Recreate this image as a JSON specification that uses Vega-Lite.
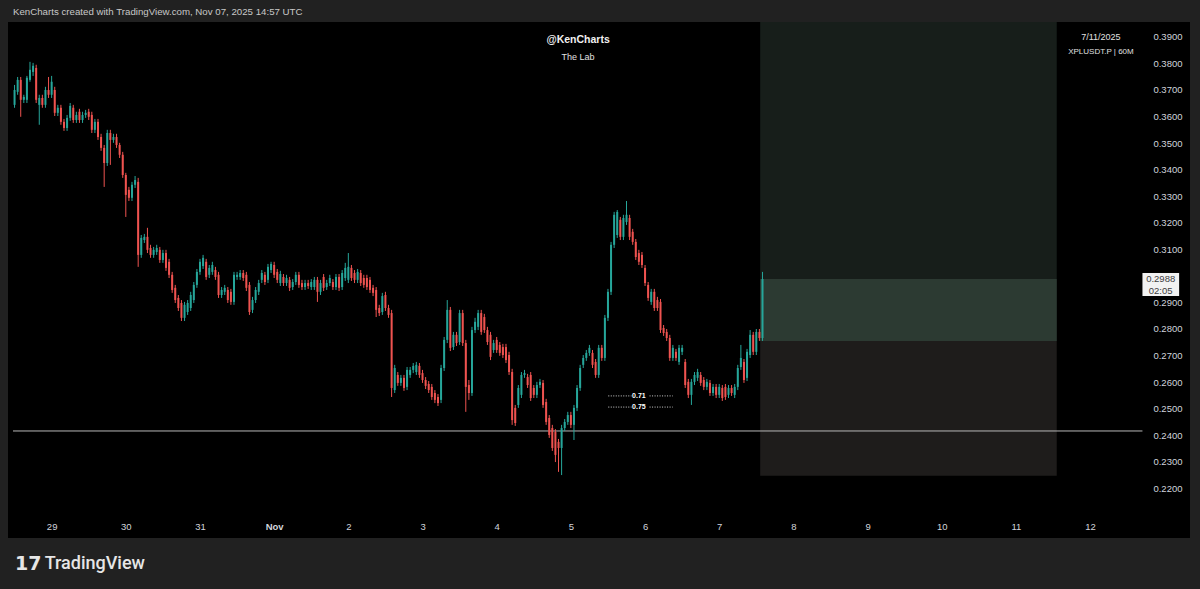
{
"$schema":"https://vega.github.io/schema/vega-lite/v6.json",
"width":1182,"height":516,
"autosize":{"type":"none"},
"padding":{"left":8,"top":22,"right":10,"bottom":51},
"background":"#212121",
"config":{"view":{"fill":"#000000","stroke":null},"font":"Liberation Sans"},
"resolve":{"axis":{"x":"independent","y":"independent"}},
"datasets":{
"candles":[
{"t":"2025-10-28T12:00Z","o":0.3644,"h":0.3719,"l":0.3633,"c":0.3700},
{"t":"2025-10-28T13:00Z","o":0.3693,"h":0.3749,"l":0.3682,"c":0.3738},
{"t":"2025-10-28T14:00Z","o":0.3738,"h":0.3749,"l":0.3599,"c":0.3663},
{"t":"2025-10-28T15:00Z","o":0.3663,"h":0.3682,"l":0.3651,"c":0.3674},
{"t":"2025-10-28T16:00Z","o":0.3663,"h":0.3753,"l":0.3651,"c":0.3746},
{"t":"2025-10-28T17:00Z","o":0.3738,"h":0.3806,"l":0.3731,"c":0.3776},
{"t":"2025-10-28T18:00Z","o":0.3768,"h":0.3802,"l":0.3753,"c":0.3791},
{"t":"2025-10-28T19:00Z","o":0.3783,"h":0.3795,"l":0.3651,"c":0.3663},
{"t":"2025-10-28T20:00Z","o":0.3644,"h":0.3682,"l":0.3569,"c":0.3670},
{"t":"2025-10-28T21:00Z","o":0.3670,"h":0.3682,"l":0.3633,"c":0.3644},
{"t":"2025-10-28T22:00Z","o":0.3644,"h":0.3712,"l":0.3633,"c":0.3700},
{"t":"2025-10-28T23:00Z","o":0.3700,"h":0.3749,"l":0.3670,"c":0.3682},
{"t":"2025-10-29T00:00Z","o":0.3682,"h":0.3753,"l":0.3670,"c":0.3731},
{"t":"2025-10-29T01:00Z","o":0.3700,"h":0.3712,"l":0.3602,"c":0.3614},
{"t":"2025-10-29T02:00Z","o":0.3614,"h":0.3644,"l":0.3602,"c":0.3633},
{"t":"2025-10-29T03:00Z","o":0.3633,"h":0.3644,"l":0.3569,"c":0.3580},
{"t":"2025-10-29T04:00Z","o":0.3580,"h":0.3591,"l":0.3546,"c":0.3557},
{"t":"2025-10-29T05:00Z","o":0.3557,"h":0.3606,"l":0.3546,"c":0.3595},
{"t":"2025-10-29T06:00Z","o":0.3595,"h":0.3651,"l":0.3584,"c":0.3640},
{"t":"2025-10-29T07:00Z","o":0.3633,"h":0.3644,"l":0.3576,"c":0.3587},
{"t":"2025-10-29T08:00Z","o":0.3587,"h":0.3618,"l":0.3576,"c":0.3606},
{"t":"2025-10-29T09:00Z","o":0.3618,"h":0.3629,"l":0.3576,"c":0.3587},
{"t":"2025-10-29T10:00Z","o":0.3587,"h":0.3618,"l":0.3576,"c":0.3606},
{"t":"2025-10-29T11:00Z","o":0.3606,"h":0.3625,"l":0.3595,"c":0.3614},
{"t":"2025-10-29T12:00Z","o":0.3618,"h":0.3629,"l":0.3587,"c":0.3599},
{"t":"2025-10-29T13:00Z","o":0.3606,"h":0.3618,"l":0.3538,"c":0.3550},
{"t":"2025-10-29T14:00Z","o":0.3550,"h":0.3591,"l":0.3538,"c":0.3580},
{"t":"2025-10-29T15:00Z","o":0.3580,"h":0.3591,"l":0.3512,"c":0.3523},
{"t":"2025-10-29T16:00Z","o":0.3523,"h":0.3535,"l":0.3471,"c":0.3482},
{"t":"2025-10-29T17:00Z","o":0.3482,"h":0.3493,"l":0.3335,"c":0.3425},
{"t":"2025-10-29T18:00Z","o":0.3425,"h":0.3550,"l":0.3414,"c":0.3538},
{"t":"2025-10-29T19:00Z","o":0.3538,"h":0.3550,"l":0.3418,"c":0.3512},
{"t":"2025-10-29T20:00Z","o":0.3512,"h":0.3535,"l":0.3501,"c":0.3523},
{"t":"2025-10-29T21:00Z","o":0.3523,"h":0.3535,"l":0.3482,"c":0.3493},
{"t":"2025-10-29T22:00Z","o":0.3493,"h":0.3501,"l":0.3444,"c":0.3456},
{"t":"2025-10-29T23:00Z","o":0.3456,"h":0.3467,"l":0.3369,"c":0.3380},
{"t":"2025-10-30T00:00Z","o":0.3380,"h":0.3388,"l":0.3222,"c":0.3305},
{"t":"2025-10-30T01:00Z","o":0.3324,"h":0.3335,"l":0.3282,"c":0.3294},
{"t":"2025-10-30T02:00Z","o":0.3294,"h":0.3354,"l":0.3282,"c":0.3343},
{"t":"2025-10-30T03:00Z","o":0.3343,"h":0.3376,"l":0.3331,"c":0.3361},
{"t":"2025-10-30T04:00Z","o":0.3354,"h":0.3369,"l":0.3034,"c":0.3079},
{"t":"2025-10-30T05:00Z","o":0.3079,"h":0.3154,"l":0.3068,"c":0.3143},
{"t":"2025-10-30T06:00Z","o":0.3135,"h":0.3158,"l":0.3124,"c":0.3147},
{"t":"2025-10-30T07:00Z","o":0.3147,"h":0.3181,"l":0.3086,"c":0.3098},
{"t":"2025-10-30T08:00Z","o":0.3105,"h":0.3117,"l":0.3068,"c":0.3079},
{"t":"2025-10-30T09:00Z","o":0.3079,"h":0.3109,"l":0.3068,"c":0.3098},
{"t":"2025-10-30T10:00Z","o":0.3090,"h":0.3117,"l":0.3079,"c":0.3105},
{"t":"2025-10-30T11:00Z","o":0.3098,"h":0.3109,"l":0.3049,"c":0.3060},
{"t":"2025-10-30T12:00Z","o":0.3060,"h":0.3098,"l":0.3049,"c":0.3086},
{"t":"2025-10-30T13:00Z","o":0.3086,"h":0.3098,"l":0.3019,"c":0.3030},
{"t":"2025-10-30T14:00Z","o":0.3053,"h":0.3064,"l":0.2992,"c":0.3004},
{"t":"2025-10-30T15:00Z","o":0.3004,"h":0.3015,"l":0.2936,"c":0.2947},
{"t":"2025-10-30T16:00Z","o":0.2955,"h":0.2966,"l":0.2898,"c":0.2909},
{"t":"2025-10-30T17:00Z","o":0.2917,"h":0.2928,"l":0.2868,"c":0.2879},
{"t":"2025-10-30T18:00Z","o":0.2898,"h":0.2909,"l":0.2830,"c":0.2842},
{"t":"2025-10-30T19:00Z","o":0.2842,"h":0.2902,"l":0.2830,"c":0.2891},
{"t":"2025-10-30T20:00Z","o":0.2864,"h":0.2909,"l":0.2853,"c":0.2898},
{"t":"2025-10-30T21:00Z","o":0.2879,"h":0.2940,"l":0.2868,"c":0.2928},
{"t":"2025-10-30T22:00Z","o":0.2909,"h":0.2977,"l":0.2898,"c":0.2966},
{"t":"2025-10-30T23:00Z","o":0.2966,"h":0.3026,"l":0.2955,"c":0.3015},
{"t":"2025-10-31T00:00Z","o":0.3015,"h":0.3064,"l":0.3004,"c":0.3053},
{"t":"2025-10-31T01:00Z","o":0.3037,"h":0.3079,"l":0.3026,"c":0.3068},
{"t":"2025-10-31T02:00Z","o":0.3053,"h":0.3064,"l":0.2985,"c":0.2996},
{"t":"2025-10-31T03:00Z","o":0.3004,"h":0.3041,"l":0.2992,"c":0.3030},
{"t":"2025-10-31T04:00Z","o":0.3015,"h":0.3053,"l":0.3004,"c":0.3041},
{"t":"2025-10-31T05:00Z","o":0.3022,"h":0.3034,"l":0.2985,"c":0.2996},
{"t":"2025-10-31T06:00Z","o":0.3004,"h":0.3015,"l":0.2917,"c":0.2928},
{"t":"2025-10-31T07:00Z","o":0.2928,"h":0.2958,"l":0.2917,"c":0.2947},
{"t":"2025-10-31T08:00Z","o":0.2940,"h":0.2966,"l":0.2928,"c":0.2955},
{"t":"2025-10-31T09:00Z","o":0.2947,"h":0.2958,"l":0.2898,"c":0.2909},
{"t":"2025-10-31T10:00Z","o":0.2940,"h":0.2951,"l":0.2891,"c":0.2902},
{"t":"2025-10-31T11:00Z","o":0.2902,"h":0.3015,"l":0.2891,"c":0.3004},
{"t":"2025-10-31T12:00Z","o":0.2996,"h":0.3015,"l":0.2985,"c":0.3004},
{"t":"2025-10-31T13:00Z","o":0.2996,"h":0.3022,"l":0.2985,"c":0.3011},
{"t":"2025-10-31T14:00Z","o":0.3011,"h":0.3022,"l":0.2981,"c":0.2992},
{"t":"2025-10-31T15:00Z","o":0.3004,"h":0.3015,"l":0.2943,"c":0.2955},
{"t":"2025-10-31T16:00Z","o":0.2966,"h":0.2977,"l":0.2853,"c":0.2864},
{"t":"2025-10-31T17:00Z","o":0.2872,"h":0.2921,"l":0.2860,"c":0.2909},
{"t":"2025-10-31T18:00Z","o":0.2909,"h":0.2958,"l":0.2898,"c":0.2947},
{"t":"2025-10-31T19:00Z","o":0.2940,"h":0.2985,"l":0.2928,"c":0.2973},
{"t":"2025-10-31T20:00Z","o":0.2985,"h":0.3022,"l":0.2973,"c":0.3011},
{"t":"2025-10-31T21:00Z","o":0.3004,"h":0.3015,"l":0.2966,"c":0.2977},
{"t":"2025-10-31T22:00Z","o":0.2985,"h":0.3045,"l":0.2973,"c":0.3034},
{"t":"2025-10-31T23:00Z","o":0.3022,"h":0.3053,"l":0.3011,"c":0.3045},
{"t":"2025-11-01T00:00Z","o":0.3041,"h":0.3053,"l":0.2992,"c":0.3004},
{"t":"2025-11-01T01:00Z","o":0.3015,"h":0.3026,"l":0.2973,"c":0.2985},
{"t":"2025-11-01T02:00Z","o":0.2973,"h":0.3019,"l":0.2962,"c":0.3007},
{"t":"2025-11-01T03:00Z","o":0.2996,"h":0.3007,"l":0.2962,"c":0.2973},
{"t":"2025-11-01T04:00Z","o":0.2973,"h":0.3004,"l":0.2962,"c":0.2992},
{"t":"2025-11-01T05:00Z","o":0.2985,"h":0.2996,"l":0.2943,"c":0.2955},
{"t":"2025-11-01T06:00Z","o":0.2958,"h":0.2988,"l":0.2947,"c":0.2977},
{"t":"2025-11-01T07:00Z","o":0.2977,"h":0.3015,"l":0.2966,"c":0.3004},
{"t":"2025-11-01T08:00Z","o":0.3004,"h":0.3015,"l":0.2955,"c":0.2966},
{"t":"2025-11-01T09:00Z","o":0.2973,"h":0.2985,"l":0.2947,"c":0.2958},
{"t":"2025-11-01T10:00Z","o":0.2958,"h":0.2985,"l":0.2947,"c":0.2973},
{"t":"2025-11-01T11:00Z","o":0.2973,"h":0.2985,"l":0.2951,"c":0.2962},
{"t":"2025-11-01T12:00Z","o":0.2958,"h":0.2988,"l":0.2947,"c":0.2977},
{"t":"2025-11-01T13:00Z","o":0.2958,"h":0.2996,"l":0.2947,"c":0.2985},
{"t":"2025-11-01T14:00Z","o":0.2985,"h":0.2996,"l":0.2902,"c":0.2940},
{"t":"2025-11-01T15:00Z","o":0.2940,"h":0.2985,"l":0.2928,"c":0.2973},
{"t":"2025-11-01T16:00Z","o":0.2996,"h":0.3007,"l":0.2943,"c":0.2955},
{"t":"2025-11-01T17:00Z","o":0.2958,"h":0.2985,"l":0.2947,"c":0.2973},
{"t":"2025-11-01T18:00Z","o":0.2973,"h":0.3004,"l":0.2962,"c":0.2992},
{"t":"2025-11-01T19:00Z","o":0.2977,"h":0.2988,"l":0.2947,"c":0.2958},
{"t":"2025-11-01T20:00Z","o":0.2958,"h":0.3007,"l":0.2947,"c":0.2996},
{"t":"2025-11-01T21:00Z","o":0.2996,"h":0.3007,"l":0.2943,"c":0.2955},
{"t":"2025-11-01T22:00Z","o":0.2958,"h":0.3022,"l":0.2947,"c":0.3011},
{"t":"2025-11-01T23:00Z","o":0.2992,"h":0.3049,"l":0.2981,"c":0.3030},
{"t":"2025-11-02T00:00Z","o":0.2985,"h":0.3086,"l":0.2973,"c":0.3034},
{"t":"2025-11-02T01:00Z","o":0.3030,"h":0.3041,"l":0.2981,"c":0.2992},
{"t":"2025-11-02T02:00Z","o":0.3011,"h":0.3022,"l":0.2973,"c":0.2985},
{"t":"2025-11-02T03:00Z","o":0.2985,"h":0.3026,"l":0.2973,"c":0.3015},
{"t":"2025-11-02T04:00Z","o":0.3011,"h":0.3022,"l":0.2962,"c":0.2973},
{"t":"2025-11-02T05:00Z","o":0.2992,"h":0.3004,"l":0.2955,"c":0.2966},
{"t":"2025-11-02T06:00Z","o":0.2992,"h":0.3004,"l":0.2947,"c":0.2958},
{"t":"2025-11-02T07:00Z","o":0.2985,"h":0.2996,"l":0.2936,"c":0.2947},
{"t":"2025-11-02T08:00Z","o":0.2955,"h":0.2966,"l":0.2924,"c":0.2936},
{"t":"2025-11-02T09:00Z","o":0.2947,"h":0.2958,"l":0.2845,"c":0.2872},
{"t":"2025-11-02T10:00Z","o":0.2879,"h":0.2891,"l":0.2849,"c":0.2860},
{"t":"2025-11-02T11:00Z","o":0.2864,"h":0.2936,"l":0.2853,"c":0.2924},
{"t":"2025-11-02T12:00Z","o":0.2928,"h":0.2940,"l":0.2868,"c":0.2879},
{"t":"2025-11-02T13:00Z","o":0.2879,"h":0.2891,"l":0.2842,"c":0.2853},
{"t":"2025-11-02T14:00Z","o":0.2860,"h":0.2872,"l":0.2544,"c":0.2578},
{"t":"2025-11-02T15:00Z","o":0.2570,"h":0.2665,"l":0.2559,"c":0.2653},
{"t":"2025-11-02T16:00Z","o":0.2627,"h":0.2638,"l":0.2586,"c":0.2597},
{"t":"2025-11-02T17:00Z","o":0.2597,"h":0.2627,"l":0.2586,"c":0.2616},
{"t":"2025-11-02T18:00Z","o":0.2616,"h":0.2627,"l":0.2567,"c":0.2578},
{"t":"2025-11-02T19:00Z","o":0.2582,"h":0.2657,"l":0.2570,"c":0.2646},
{"t":"2025-11-02T20:00Z","o":0.2627,"h":0.2657,"l":0.2616,"c":0.2646},
{"t":"2025-11-02T21:00Z","o":0.2646,"h":0.2672,"l":0.2634,"c":0.2661},
{"t":"2025-11-02T22:00Z","o":0.2638,"h":0.2676,"l":0.2627,"c":0.2665},
{"t":"2025-11-02T23:00Z","o":0.2661,"h":0.2672,"l":0.2616,"c":0.2627},
{"t":"2025-11-03T00:00Z","o":0.2634,"h":0.2646,"l":0.2597,"c":0.2608},
{"t":"2025-11-03T01:00Z","o":0.2608,"h":0.2619,"l":0.2574,"c":0.2586},
{"t":"2025-11-03T02:00Z","o":0.2593,"h":0.2604,"l":0.2559,"c":0.2570},
{"t":"2025-11-03T03:00Z","o":0.2582,"h":0.2593,"l":0.2533,"c":0.2544},
{"t":"2025-11-03T04:00Z","o":0.2559,"h":0.2570,"l":0.2521,"c":0.2533},
{"t":"2025-11-03T05:00Z","o":0.2544,"h":0.2555,"l":0.2510,"c":0.2521},
{"t":"2025-11-03T06:00Z","o":0.2533,"h":0.2665,"l":0.2521,"c":0.2653},
{"t":"2025-11-03T07:00Z","o":0.2653,"h":0.2770,"l":0.2642,"c":0.2759},
{"t":"2025-11-03T08:00Z","o":0.2759,"h":0.2909,"l":0.2747,"c":0.2872},
{"t":"2025-11-03T09:00Z","o":0.2872,"h":0.2883,"l":0.2717,"c":0.2729},
{"t":"2025-11-03T10:00Z","o":0.2732,"h":0.2789,"l":0.2721,"c":0.2778},
{"t":"2025-11-03T11:00Z","o":0.2778,"h":0.2789,"l":0.2736,"c":0.2747},
{"t":"2025-11-03T12:00Z","o":0.2751,"h":0.2872,"l":0.2740,"c":0.2860},
{"t":"2025-11-03T13:00Z","o":0.2860,"h":0.2872,"l":0.2736,"c":0.2747},
{"t":"2025-11-03T14:00Z","o":0.2747,"h":0.2759,"l":0.2488,"c":0.2582},
{"t":"2025-11-03T15:00Z","o":0.2589,"h":0.2608,"l":0.2533,"c":0.2559},
{"t":"2025-11-03T16:00Z","o":0.2559,"h":0.2808,"l":0.2548,"c":0.2796},
{"t":"2025-11-03T17:00Z","o":0.2796,"h":0.2842,"l":0.2785,"c":0.2827},
{"t":"2025-11-03T18:00Z","o":0.2808,"h":0.2872,"l":0.2796,"c":0.2860},
{"t":"2025-11-03T19:00Z","o":0.2860,"h":0.2872,"l":0.2778,"c":0.2789},
{"t":"2025-11-03T20:00Z","o":0.2845,"h":0.2857,"l":0.2785,"c":0.2796},
{"t":"2025-11-03T21:00Z","o":0.2796,"h":0.2808,"l":0.2740,"c":0.2751},
{"t":"2025-11-03T22:00Z","o":0.2778,"h":0.2789,"l":0.2683,"c":0.2695},
{"t":"2025-11-03T23:00Z","o":0.2721,"h":0.2759,"l":0.2710,"c":0.2747},
{"t":"2025-11-04T00:00Z","o":0.2759,"h":0.2770,"l":0.2710,"c":0.2721},
{"t":"2025-11-04T01:00Z","o":0.2740,"h":0.2751,"l":0.2699,"c":0.2710},
{"t":"2025-11-04T02:00Z","o":0.2732,"h":0.2744,"l":0.2691,"c":0.2702},
{"t":"2025-11-04T03:00Z","o":0.2732,"h":0.2744,"l":0.2672,"c":0.2683},
{"t":"2025-11-04T04:00Z","o":0.2702,"h":0.2714,"l":0.2627,"c":0.2638},
{"t":"2025-11-04T05:00Z","o":0.2638,"h":0.2650,"l":0.2439,"c":0.2457},
{"t":"2025-11-04T06:00Z","o":0.2503,"h":0.2514,"l":0.2435,"c":0.2446},
{"t":"2025-11-04T07:00Z","o":0.2514,"h":0.2589,"l":0.2503,"c":0.2578},
{"t":"2025-11-04T08:00Z","o":0.2552,"h":0.2638,"l":0.2540,"c":0.2627},
{"t":"2025-11-04T09:00Z","o":0.2627,"h":0.2646,"l":0.2616,"c":0.2634},
{"t":"2025-11-04T10:00Z","o":0.2619,"h":0.2631,"l":0.2578,"c":0.2589},
{"t":"2025-11-04T11:00Z","o":0.2627,"h":0.2638,"l":0.2529,"c":0.2540},
{"t":"2025-11-04T12:00Z","o":0.2578,"h":0.2589,"l":0.2540,"c":0.2552},
{"t":"2025-11-04T13:00Z","o":0.2552,"h":0.2601,"l":0.2540,"c":0.2589},
{"t":"2025-11-04T14:00Z","o":0.2589,"h":0.2612,"l":0.2578,"c":0.2601},
{"t":"2025-11-04T15:00Z","o":0.2597,"h":0.2608,"l":0.2503,"c":0.2514},
{"t":"2025-11-04T16:00Z","o":0.2525,"h":0.2537,"l":0.2439,"c":0.2450},
{"t":"2025-11-04T17:00Z","o":0.2465,"h":0.2476,"l":0.2390,"c":0.2401},
{"t":"2025-11-04T18:00Z","o":0.2427,"h":0.2439,"l":0.2341,"c":0.2352},
{"t":"2025-11-04T19:00Z","o":0.2412,"h":0.2423,"l":0.2299,"c":0.2326},
{"t":"2025-11-04T20:00Z","o":0.2375,"h":0.2386,"l":0.2262,"c":0.2352},
{"t":"2025-11-04T21:00Z","o":0.2352,"h":0.2439,"l":0.2250,"c":0.2427},
{"t":"2025-11-04T22:00Z","o":0.2427,"h":0.2461,"l":0.2416,"c":0.2450},
{"t":"2025-11-04T23:00Z","o":0.2450,"h":0.2488,"l":0.2439,"c":0.2476},
{"t":"2025-11-05T00:00Z","o":0.2476,"h":0.2488,"l":0.2427,"c":0.2439},
{"t":"2025-11-05T01:00Z","o":0.2439,"h":0.2514,"l":0.2382,"c":0.2503},
{"t":"2025-11-05T02:00Z","o":0.2503,"h":0.2589,"l":0.2491,"c":0.2578},
{"t":"2025-11-05T03:00Z","o":0.2578,"h":0.2665,"l":0.2567,"c":0.2653},
{"t":"2025-11-05T04:00Z","o":0.2665,"h":0.2702,"l":0.2653,"c":0.2691},
{"t":"2025-11-05T05:00Z","o":0.2691,"h":0.2721,"l":0.2680,"c":0.2710},
{"t":"2025-11-05T06:00Z","o":0.2710,"h":0.2740,"l":0.2699,"c":0.2729},
{"t":"2025-11-05T07:00Z","o":0.2710,"h":0.2721,"l":0.2653,"c":0.2665},
{"t":"2025-11-05T08:00Z","o":0.2676,"h":0.2687,"l":0.2616,"c":0.2627},
{"t":"2025-11-05T09:00Z","o":0.2627,"h":0.2740,"l":0.2616,"c":0.2729},
{"t":"2025-11-05T10:00Z","o":0.2729,"h":0.2740,"l":0.2680,"c":0.2691},
{"t":"2025-11-05T11:00Z","o":0.2691,"h":0.2853,"l":0.2680,"c":0.2842},
{"t":"2025-11-05T12:00Z","o":0.2842,"h":0.2951,"l":0.2830,"c":0.2940},
{"t":"2025-11-05T13:00Z","o":0.2940,"h":0.3128,"l":0.2928,"c":0.3117},
{"t":"2025-11-05T14:00Z","o":0.3117,"h":0.3241,"l":0.3105,"c":0.3230},
{"t":"2025-11-05T15:00Z","o":0.3154,"h":0.3248,"l":0.3143,"c":0.3241},
{"t":"2025-11-05T16:00Z","o":0.3211,"h":0.3222,"l":0.3135,"c":0.3147},
{"t":"2025-11-05T17:00Z","o":0.3147,"h":0.3230,"l":0.3135,"c":0.3218},
{"t":"2025-11-05T18:00Z","o":0.3203,"h":0.3282,"l":0.3192,"c":0.3230},
{"t":"2025-11-05T19:00Z","o":0.3218,"h":0.3230,"l":0.3135,"c":0.3147},
{"t":"2025-11-05T20:00Z","o":0.3166,"h":0.3177,"l":0.3117,"c":0.3128},
{"t":"2025-11-05T21:00Z","o":0.3128,"h":0.3139,"l":0.3060,"c":0.3071},
{"t":"2025-11-05T22:00Z","o":0.3086,"h":0.3098,"l":0.3041,"c":0.3053},
{"t":"2025-11-05T23:00Z","o":0.3079,"h":0.3090,"l":0.3030,"c":0.3041},
{"t":"2025-11-06T00:00Z","o":0.3030,"h":0.3041,"l":0.2962,"c":0.2973},
{"t":"2025-11-06T01:00Z","o":0.2966,"h":0.2977,"l":0.2906,"c":0.2917},
{"t":"2025-11-06T02:00Z","o":0.2902,"h":0.2951,"l":0.2891,"c":0.2940},
{"t":"2025-11-06T03:00Z","o":0.2940,"h":0.2951,"l":0.2868,"c":0.2879},
{"t":"2025-11-06T04:00Z","o":0.2909,"h":0.2921,"l":0.2868,"c":0.2879},
{"t":"2025-11-06T05:00Z","o":0.2902,"h":0.2913,"l":0.2785,"c":0.2796},
{"t":"2025-11-06T06:00Z","o":0.2804,"h":0.2815,"l":0.2774,"c":0.2785},
{"t":"2025-11-06T07:00Z","o":0.2789,"h":0.2800,"l":0.2755,"c":0.2766},
{"t":"2025-11-06T08:00Z","o":0.2766,"h":0.2778,"l":0.2680,"c":0.2691},
{"t":"2025-11-06T09:00Z","o":0.2691,"h":0.2740,"l":0.2680,"c":0.2729},
{"t":"2025-11-06T10:00Z","o":0.2714,"h":0.2725,"l":0.2680,"c":0.2691},
{"t":"2025-11-06T11:00Z","o":0.2676,"h":0.2740,"l":0.2665,"c":0.2729},
{"t":"2025-11-06T12:00Z","o":0.2714,"h":0.2740,"l":0.2702,"c":0.2729},
{"t":"2025-11-06T13:00Z","o":0.2676,"h":0.2687,"l":0.2578,"c":0.2589},
{"t":"2025-11-06T14:00Z","o":0.2601,"h":0.2612,"l":0.2540,"c":0.2552},
{"t":"2025-11-06T15:00Z","o":0.2552,"h":0.2612,"l":0.2514,"c":0.2601},
{"t":"2025-11-06T16:00Z","o":0.2601,"h":0.2638,"l":0.2589,"c":0.2627},
{"t":"2025-11-06T17:00Z","o":0.2616,"h":0.2650,"l":0.2604,"c":0.2638},
{"t":"2025-11-06T18:00Z","o":0.2627,"h":0.2638,"l":0.2586,"c":0.2597},
{"t":"2025-11-06T19:00Z","o":0.2608,"h":0.2619,"l":0.2570,"c":0.2582},
{"t":"2025-11-06T20:00Z","o":0.2582,"h":0.2612,"l":0.2570,"c":0.2601},
{"t":"2025-11-06T21:00Z","o":0.2597,"h":0.2608,"l":0.2548,"c":0.2559},
{"t":"2025-11-06T22:00Z","o":0.2559,"h":0.2593,"l":0.2548,"c":0.2582},
{"t":"2025-11-06T23:00Z","o":0.2582,"h":0.2593,"l":0.2540,"c":0.2552},
{"t":"2025-11-07T00:00Z","o":0.2552,"h":0.2593,"l":0.2540,"c":0.2582},
{"t":"2025-11-07T01:00Z","o":0.2578,"h":0.2589,"l":0.2529,"c":0.2540},
{"t":"2025-11-07T02:00Z","o":0.2582,"h":0.2593,"l":0.2533,"c":0.2544},
{"t":"2025-11-07T03:00Z","o":0.2552,"h":0.2589,"l":0.2540,"c":0.2578},
{"t":"2025-11-07T04:00Z","o":0.2578,"h":0.2589,"l":0.2548,"c":0.2559},
{"t":"2025-11-07T05:00Z","o":0.2552,"h":0.2593,"l":0.2540,"c":0.2582},
{"t":"2025-11-07T06:00Z","o":0.2582,"h":0.2665,"l":0.2570,"c":0.2653},
{"t":"2025-11-07T07:00Z","o":0.2657,"h":0.2740,"l":0.2646,"c":0.2691},
{"t":"2025-11-07T08:00Z","o":0.2676,"h":0.2687,"l":0.2597,"c":0.2608},
{"t":"2025-11-07T09:00Z","o":0.2616,"h":0.2725,"l":0.2604,"c":0.2714},
{"t":"2025-11-07T10:00Z","o":0.2702,"h":0.2796,"l":0.2691,"c":0.2778},
{"t":"2025-11-07T11:00Z","o":0.2778,"h":0.2789,"l":0.2702,"c":0.2714},
{"t":"2025-11-07T12:00Z","o":0.2714,"h":0.2800,"l":0.2702,"c":0.2789},
{"t":"2025-11-07T13:00Z","o":0.2789,"h":0.2800,"l":0.2755,"c":0.2766},
{"t":"2025-11-07T14:00Z","o":0.2766,"h":0.3015,"l":0.2755,"c":0.2988}
],
"zones":[
{"zone":"profit","t":"2025-11-07T13:15Z","t2":"2025-11-11T13:12Z","p":0.2755,"p2":0.3956},
{"zone":"stop","t":"2025-11-07T13:15Z","t2":"2025-11-11T13:12Z","p":0.2247,"p2":0.2755},
{"zone":"open","t":"2025-11-07T13:15Z","t2":"2025-11-11T13:12Z","p":0.2755,"p2":0.2988}
],
"hline":[{"t":"2025-10-28T11:30Z","t2":"2025-11-12T16:56Z","p":0.2416}],
"fib":[
{"t":"2025-11-05T12:06Z","t2":"2025-11-05T19:36Z","p":0.2548},
{"t":"2025-11-06T01:28Z","t2":"2025-11-06T08:57Z","p":0.2548},
{"t":"2025-11-05T12:06Z","t2":"2025-11-05T19:36Z","p":0.2506},
{"t":"2025-11-06T01:28Z","t2":"2025-11-06T08:57Z","p":0.2506}
],
"fibtext":[
{"t":"2025-11-05T22:00Z","p":0.2548,"label":"0.71"},
{"t":"2025-11-05T22:00Z","p":0.2506,"label":"0.75"}
],
"pricebox":[{"t":"2025-11-12T16:56Z","t2":"2025-11-13T04:48Z","p":0.3011,"p2":0.2924}]
},
"data":{"name":"candles"},
"layer":[
{"data":{"name":"zones"},
 "mark":{"type":"rect"},
 "encoding":{
  "x":{"field":"t","type":"temporal","scale":{"type":"utc","domain":[{"year":2025,"month":10,"date":28,"hours":11,"minutes":30,"utc":true},{"year":2025,"month":11,"date":13,"hours":6,"minutes":42,"utc":true}]},"axis":null},
  "x2":{"field":"t2"},
  "y":{"field":"p","type":"quantitative","scale":{"domain":[0.2013,0.3956],"nice":false,"zero":false},"axis":null},
  "y2":{"field":"p2"},
  "color":{"field":"zone","type":"nominal","scale":{"domain":["profit","stop","open"],"range":["#171e1a","#1e1c1b","#2c3a32"]},"legend":null}
 }},
{"data":{"name":"hline"},
 "mark":{"type":"rule","color":"#b8b8b8","strokeWidth":1},
 "encoding":{
  "x":{"field":"t","type":"temporal","scale":{"type":"utc","domain":[{"year":2025,"month":10,"date":28,"hours":11,"minutes":30,"utc":true},{"year":2025,"month":11,"date":13,"hours":6,"minutes":42,"utc":true}]},"axis":null},
  "x2":{"field":"t2"},
  "y":{"field":"p","type":"quantitative","scale":{"domain":[0.2013,0.3956],"nice":false,"zero":false},"axis":null}
 }},
{"mark":{"type":"rule","strokeWidth":1},
 "encoding":{
  "x":{"field":"t","type":"temporal","scale":{"type":"utc","domain":[{"year":2025,"month":10,"date":28,"hours":11,"minutes":30,"utc":true},{"year":2025,"month":11,"date":13,"hours":6,"minutes":42,"utc":true}]},
   "axis":{"orient":"bottom","title":null,"grid":false,"domain":false,"ticks":false,"tickSize":0,"labelPadding":-17,"labelColor":"#d1d4dc","labelFontSize":9.5,"labelFlush":false,"labelOverlap":false,
    "values":[{"year":2025,"month":10,"date":29,"utc":true},{"year":2025,"month":10,"date":30,"utc":true},{"year":2025,"month":10,"date":31,"utc":true},{"year":2025,"month":11,"date":1,"utc":true},{"year":2025,"month":11,"date":2,"utc":true},{"year":2025,"month":11,"date":3,"utc":true},{"year":2025,"month":11,"date":4,"utc":true},{"year":2025,"month":11,"date":5,"utc":true},{"year":2025,"month":11,"date":6,"utc":true},{"year":2025,"month":11,"date":7,"utc":true},{"year":2025,"month":11,"date":8,"utc":true},{"year":2025,"month":11,"date":9,"utc":true},{"year":2025,"month":11,"date":10,"utc":true},{"year":2025,"month":11,"date":11,"utc":true},{"year":2025,"month":11,"date":12,"utc":true}],
    "labelExpr":"utcFormat(datum.value,'%d')=='01' ? utcFormat(datum.value,'%b') : utcFormat(datum.value,'%-d')",
    "labelFontWeight":{"condition":{"test":"utcFormat(datum.value,'%d')=='01'","value":"bold"},"value":"normal"}}},
  "y":{"field":"l","type":"quantitative","scale":{"domain":[0.2013,0.3956],"nice":false,"zero":false},
   "axis":{"orient":"right","title":null,"grid":false,"domain":false,"ticks":false,"tickSize":0,"labelPadding":-8,"labelAlign":"right","labelColor":"#d1d4dc","labelFontSize":9.5,"labelFlush":false,"labelOverlap":false,"format":".4f",
    "values":[0.22,0.23,0.24,0.25,0.26,0.27,0.28,0.29,0.31,0.32,0.33,0.34,0.35,0.36,0.37,0.38,0.39]}},
  "y2":{"field":"h"},
  "color":{"condition":{"test":"datum.c >= datum.o","value":"#26a69a"},"value":"#ef5350"}
 }},
{"mark":{"type":"bar","size":2},
 "encoding":{
  "x":{"field":"t","type":"temporal","scale":{"type":"utc","domain":[{"year":2025,"month":10,"date":28,"hours":11,"minutes":30,"utc":true},{"year":2025,"month":11,"date":13,"hours":6,"minutes":42,"utc":true}]},"axis":null},
  "y":{"field":"o","type":"quantitative","scale":{"domain":[0.2013,0.3956],"nice":false,"zero":false},"axis":null},
  "y2":{"field":"c"},
  "color":{"condition":{"test":"datum.c >= datum.o","value":"#26a69a"},"value":"#ef5350"}
 }},
{"data":{"name":"fib"},
 "mark":{"type":"rule","color":"#d0d0d0","strokeWidth":1,"strokeDash":[1,1.5]},
 "encoding":{
  "x":{"field":"t","type":"temporal","scale":{"type":"utc","domain":[{"year":2025,"month":10,"date":28,"hours":11,"minutes":30,"utc":true},{"year":2025,"month":11,"date":13,"hours":6,"minutes":42,"utc":true}]},"axis":null},
  "x2":{"field":"t2"},
  "y":{"field":"p","type":"quantitative","scale":{"domain":[0.2013,0.3956],"nice":false,"zero":false},"axis":null}
 }},
{"data":{"name":"fibtext"},
 "mark":{"type":"text","color":"#ffffff","fontSize":7,"fontWeight":"bold","align":"center","baseline":"middle"},
 "encoding":{
  "x":{"field":"t","type":"temporal","scale":{"type":"utc","domain":[{"year":2025,"month":10,"date":28,"hours":11,"minutes":30,"utc":true},{"year":2025,"month":11,"date":13,"hours":6,"minutes":42,"utc":true}]},"axis":null},
  "y":{"field":"p","type":"quantitative","scale":{"domain":[0.2013,0.3956],"nice":false,"zero":false},"axis":null},
  "text":{"field":"label"}
 }},
{"data":{"name":"pricebox"},
 "mark":{"type":"rect","color":"#f2f2f2"},
 "encoding":{
  "x":{"field":"t","type":"temporal","scale":{"type":"utc","domain":[{"year":2025,"month":10,"date":28,"hours":11,"minutes":30,"utc":true},{"year":2025,"month":11,"date":13,"hours":6,"minutes":42,"utc":true}]},"axis":null},
  "x2":{"field":"t2"},
  "y":{"field":"p","type":"quantitative","scale":{"domain":[0.2013,0.3956],"nice":false,"zero":false},"axis":null},
  "y2":{"field":"p2"}
 }},
{"data":{"values":[{"t":"2025-11-12T22:50Z","p":0.2988,"label":"0.2988"},{"t":"2025-11-12T22:50Z","p":0.2944,"label":"02:05"}]},
 "mark":{"type":"text","color":"#404040","fontSize":9.5,"align":"center","baseline":"middle"},
 "encoding":{
  "x":{"field":"t","type":"temporal","scale":{"type":"utc","domain":[{"year":2025,"month":10,"date":28,"hours":11,"minutes":30,"utc":true},{"year":2025,"month":11,"date":13,"hours":6,"minutes":42,"utc":true}]},"axis":null},
  "y":{"field":"p","type":"quantitative","scale":{"domain":[0.2013,0.3956],"nice":false,"zero":false},"axis":null},
  "text":{"field":"label"}
 }},
{"data":{"values":[{"t":"2025-10-28T11:30Z","p":0.3994,"label":"KenCharts created with TradingView.com, Nov 07, 2025 14:57 UTC"}]},
 "mark":{"type":"text","color":"#c8c8c8","fontSize":9.7,"align":"left","baseline":"middle"},
 "encoding":{
  "x":{"field":"t","type":"temporal","scale":{"type":"utc","domain":[{"year":2025,"month":10,"date":28,"hours":11,"minutes":30,"utc":true},{"year":2025,"month":11,"date":13,"hours":6,"minutes":42,"utc":true}]},"axis":null},
  "y":{"field":"p","type":"quantitative","scale":{"domain":[0.2013,0.3956],"nice":false,"zero":false},"axis":null},
  "text":{"field":"label"}
 }},
{"data":{"values":[{"t":"2025-11-05T02:20Z","p":0.3888,"label":"@KenCharts"}]},
 "mark":{"type":"text","color":"#f0f0f0","fontSize":10.5,"fontWeight":"bold","align":"center","baseline":"middle"},
 "encoding":{
  "x":{"field":"t","type":"temporal","scale":{"type":"utc","domain":[{"year":2025,"month":10,"date":28,"hours":11,"minutes":30,"utc":true},{"year":2025,"month":11,"date":13,"hours":6,"minutes":42,"utc":true}]},"axis":null},
  "y":{"field":"p","type":"quantitative","scale":{"domain":[0.2013,0.3956],"nice":false,"zero":false},"axis":null},
  "text":{"field":"label"}
 }},
{"data":{"values":[{"t":"2025-11-05T02:20Z","p":0.3825,"label":"The Lab"},{"t":"2025-11-12T03:30Z","p":0.3901,"label":"7/11/2025"}]},
 "mark":{"type":"text","color":"#e0e0e0","fontSize":9,"align":"center","baseline":"middle"},
 "encoding":{
  "x":{"field":"t","type":"temporal","scale":{"type":"utc","domain":[{"year":2025,"month":10,"date":28,"hours":11,"minutes":30,"utc":true},{"year":2025,"month":11,"date":13,"hours":6,"minutes":42,"utc":true}]},"axis":null},
  "y":{"field":"p","type":"quantitative","scale":{"domain":[0.2013,0.3956],"nice":false,"zero":false},"axis":null},
  "text":{"field":"label"}
 }},
{"data":{"values":[{"t":"2025-11-12T03:30Z","p":0.3844,"label":"XPLUSDT.P | 60M"}]},
 "mark":{"type":"text","color":"#e0e0e0","fontSize":8,"align":"center","baseline":"middle"},
 "encoding":{
  "x":{"field":"t","type":"temporal","scale":{"type":"utc","domain":[{"year":2025,"month":10,"date":28,"hours":11,"minutes":30,"utc":true},{"year":2025,"month":11,"date":13,"hours":6,"minutes":42,"utc":true}]},"axis":null},
  "y":{"field":"p","type":"quantitative","scale":{"domain":[0.2013,0.3956],"nice":false,"zero":false},"axis":null},
  "text":{"field":"label"}
 }},
{"data":{"values":[{"t":"2025-10-28T21:45Z","p":0.1915,"label":"TradingView"}]},
 "mark":{"type":"text","color":"#e6e6e6","fontSize":18,"font":"Roboto","fontWeight":500,"align":"left","baseline":"middle"},
 "encoding":{
  "x":{"field":"t","type":"temporal","scale":{"type":"utc","domain":[{"year":2025,"month":10,"date":28,"hours":11,"minutes":30,"utc":true},{"year":2025,"month":11,"date":13,"hours":6,"minutes":42,"utc":true}]},"axis":null},
  "y":{"field":"p","type":"quantitative","scale":{"domain":[0.2013,0.3956],"nice":false,"zero":false},"axis":null},
  "text":{"field":"label"}
 }},
{"data":{"values":[{"t":"2025-10-28T12:10Z","p":0.1915,"label":"17"}]},
 "mark":{"type":"text","color":"#e6e6e6","fontSize":19,"font":"DejaVu Sans","fontWeight":"bold","align":"left","baseline":"middle"},
 "encoding":{
  "x":{"field":"t","type":"temporal","scale":{"type":"utc","domain":[{"year":2025,"month":10,"date":28,"hours":11,"minutes":30,"utc":true},{"year":2025,"month":11,"date":13,"hours":6,"minutes":42,"utc":true}]},"axis":null},
  "y":{"field":"p","type":"quantitative","scale":{"domain":[0.2013,0.3956],"nice":false,"zero":false},"axis":null},
  "text":{"field":"label"}
 }}
]
}
